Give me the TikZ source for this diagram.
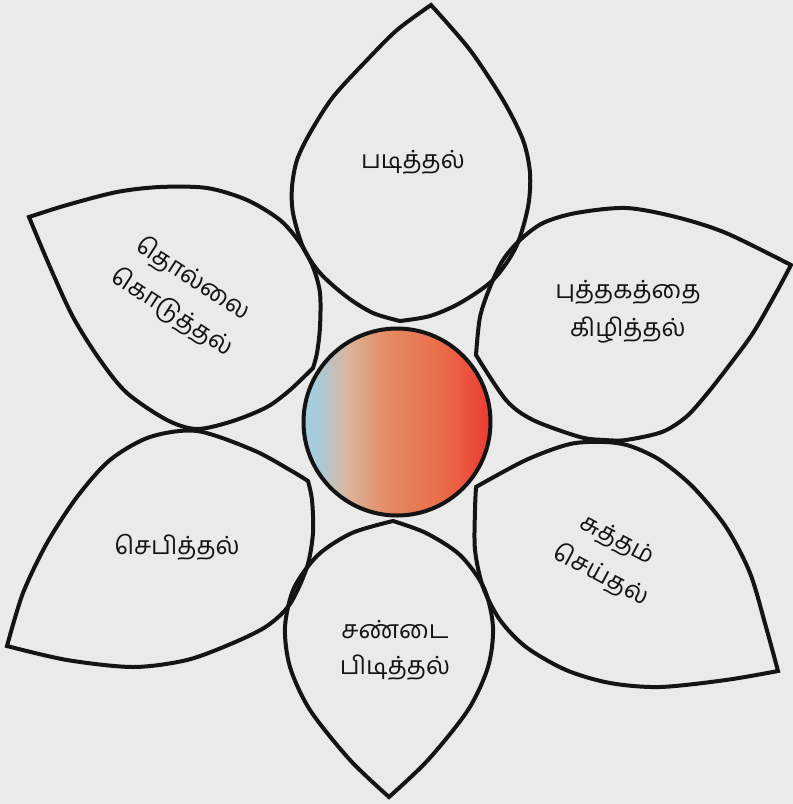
\documentclass[tikz,border=0pt]{standalone}
\usepackage{fontspec}
\newfontfamily\tamil[Script=Tamil]{Hind Madurai}
\definecolor{bg}{RGB}{234,234,234}
\definecolor{ink}{RGB}{20,20,20}
\definecolor{cA}{RGB}{165,205,222}
\definecolor{cB}{RGB}{220,180,155}
\definecolor{cC}{RGB}{228,140,100}
\definecolor{cD}{RGB}{234,108,72}
\definecolor{cE}{RGB}{236,62,52}
\pgfdeclarehorizontalshading{ballshade}{100bp}{color(0bp)=(cA); color(25bp)=(cA); color(28bp)=(cA); color(37bp)=(cB); color(47bp)=(cC); color(62bp)=(cD); color(74bp)=(cE); color(100bp)=(cE)}
\begin{document}
\begin{tikzpicture}[x=1pt,y=-1pt,
  petal/.style={draw=ink, line width=4pt, line join=miter, miter limit=20},
  lbl/.style={font=\tamil\fontsize{25}{39}\selectfont, align=center, text=ink, inner sep=0pt}]
\useasboundingbox (0,0) rectangle (793,804);
\fill[bg] (0,0) rectangle (793,804);

% top petal
\draw[petal] plot[smooth] coordinates {(400,321) (373,313) (347,297) (320,273) (303,247) (293,213) (292,187) (297,160) (310,133) (333,97) (367,60) (397,30) (431,5)}
  -- plot[smooth] coordinates {(431,5) (470,50) (503,100) (523,140) (530,173) (528,207) (516,247) (493,280) (460,303) (430,316) (400,321)} -- cycle;

% upper-left petal
\draw[petal] plot[smooth] coordinates {(313,368) (317,353) (320,327) (320,293) (313,267) (300,243) (280,220) (247,200) (207,188) (160,187) (117,192) (67,205) (29,217)}
  -- plot[smooth] coordinates {(29,217) (50,267) (73,317) (100,360) (127,393) (167,420) (197,429) (233,421) (267,407) (290,390) (313,368)} -- cycle;

% upper-right petal
\draw[petal] plot[smooth] coordinates {(476,355) (480,317) (490,287) (503,260) (520,240) (543,223) (576,213) (626,208) (676,217) (726,233) (791,265)}
  -- plot[smooth] coordinates {(791,265) (776,293) (753,333) (728,367) (706,395) (686,417) (662,432) (626,440) (605,440) (580,437) (533,420) (506,400) (476,355)} -- cycle;

% lower-left petal
\draw[petal] plot[smooth] coordinates {(308,481) (290,470) (253,450) (197,431) (150,437) (110,460) (77,497) (47,543) (23,593) (7,646)}
  -- plot[smooth] coordinates {(7,646) (67,660) (133,667) (187,660) (233,643) (267,626) (290,604) (307,567) (313,533) (312,500) (308,481)} -- cycle;

% lower-right petal
\draw[petal] plot[smooth] coordinates {(476,487) (526,460) (570,444) (605,442) (630,446) (660,460) (693,487) (726,527) (750,573) (766,627) (778,671)}
  -- plot[smooth] coordinates {(778,671) (726,680) (660,687) (610,683) (566,670) (526,647) (500,620) (483,587) (475,550) (475,510) (476,487)} -- cycle;

% bottom petal
\draw[petal] plot[smooth] coordinates {(393,521) (352,533) (318,555) (294,588) (285,627) (290,667) (310,710) (350,760) (389,797)}
  -- plot[smooth] coordinates {(389,797) (428,760) (468,710) (488,667) (493,627) (484,588) (460,555) (426,533) (393,521)} -- cycle;

% centre
\node[circle, minimum size=187pt, inner sep=0pt, shading=ballshade, draw=ink, line width=4pt] (ball) at (397,422) {};

% labels
\node[lbl] (padithal) at (413,162) {படித்தல்};
\node[lbl, rotate=-33] (thollai) at (193,279) {தொல்லை};
\node[lbl, rotate=-33] (koduththal) at (172,313) {கொடுத்தல்};
\node[lbl] (puththagam) at (628,292) {புத்தகத்தை};
\node[lbl] (kizhiththal) at (628,330) {கிழித்தல்};
\node[lbl] (sebiththal) at (177,547) {செபித்தல்};
\node[lbl, rotate=-28] (suththam) at (617,541) {சுத்தம்};
\node[lbl, rotate=-28] (seythal) at (601,575) {செய்தல்};
\node[lbl] (sandai) at (395,630) {சண்டை};
\node[lbl] (pidiththal) at (395,668) {பிடித்தல்};
\end{tikzpicture}
\end{document}
